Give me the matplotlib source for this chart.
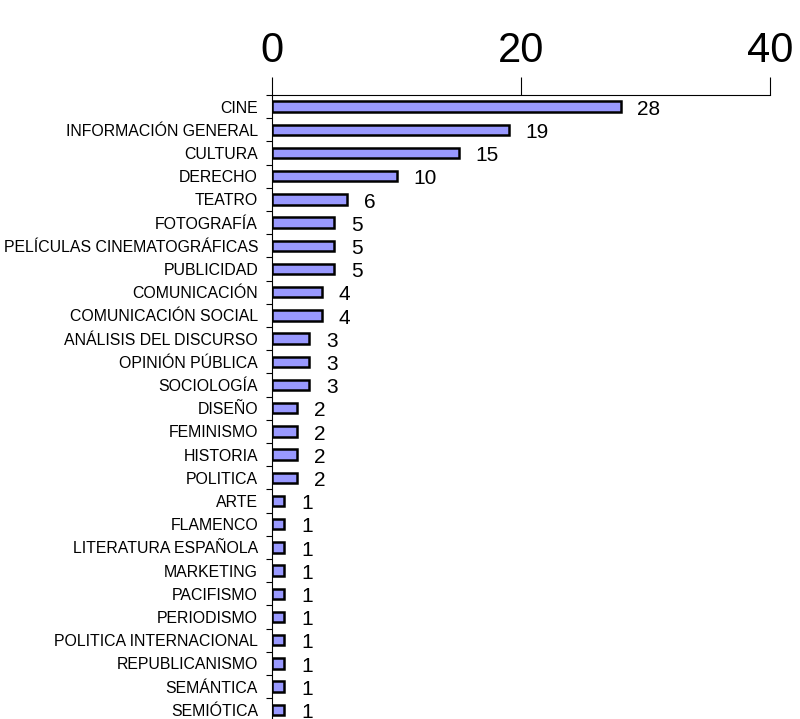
import matplotlib.pyplot as plt
import numpy as np

categorias = ['CINE', 'INFORMACIÓN GENERAL', 'CULTURA', 'DERECHO', 'TEATRO',
              'FOTOGRAFÍA', 'PELÍCULAS CINEMATOGRÁFICAS', 'PUBLICIDAD',
              'COMUNICACIÓN', 'COMUNICACIÓN SOCIAL', 'ANÁLISIS DEL DISCURSO',
              'OPINIÓN PÚBLICA', 'SOCIOLOGÍA', 'DISEÑO', 'FEMINISMO', 'HISTORIA',
              'POLITICA', 'ARTE', 'FLAMENCO', 'LITERATURA ESPAÑOLA', 'MARKETING',
              'PACIFISMO', 'PERIODISMO', 'POLITICA INTERNACIONAL',
              'REPUBLICANISMO', 'SEMÁNTICA', 'SEMIÓTICA']
valores = [28, 19, 15, 10, 6, 5, 5, 5, 4, 4, 3, 3, 3, 2, 2, 2, 2,
           1, 1, 1, 1, 1, 1, 1, 1, 1, 1]
xticks = [0, 20, 40]

plt.rcParams['font.family'] = ['Liberation Sans', 'DejaVu Sans']

fig = plt.figure(figsize=(8, 7.19), dpi=100)
n = len(categorias)
paso = 23.2 / 719
alto = n * paso
top = 1 - 95 / 719
ax = fig.add_axes([0.34, top - alto, 0.6225, alto])

y = np.arange(n)
ax.barh(y, valores, height=0.45, color='#9999ff', edgecolor='black', linewidth=1.8)
for yi, v in zip(y, valores):
    ax.text(v + 1.35, yi + 0.12, str(v), va='center', ha='left', fontsize=15)

ax.set_ylim(n - 0.5, -0.5)
ax.set_xlim(0, 40)
ax.set_yticks(y)
ax.set_yticklabels(categorias, fontsize=11.4)
ax.set_yticks(np.arange(n + 1) - 0.5, minor=True)
ax.tick_params(axis='y', which='major', length=0, pad=10)
ax.tick_params(axis='y', which='minor', length=4, width=0.8)
ax.xaxis.tick_top()
ax.set_xticks(xticks)
ax.tick_params(axis='x', length=13, width=0.8, labelsize=30, pad=4)

ax.spines['right'].set_visible(False)
ax.spines['bottom'].set_visible(False)
ax.spines['left'].set_linewidth(0.8)
ax.spines['top'].set_linewidth(0.8)

fig.savefig('out.png', dpi=100)
